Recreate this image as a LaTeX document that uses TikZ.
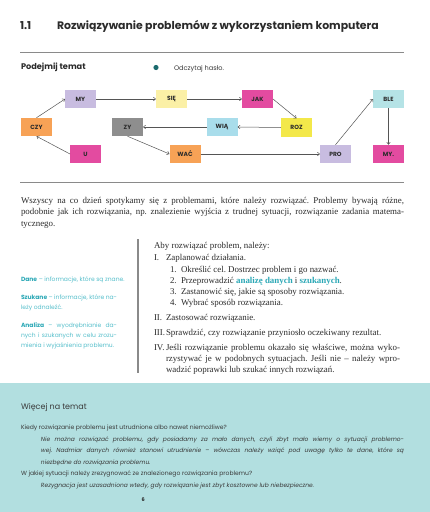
\documentclass[tikz,border=0pt]{standalone}
\usepackage{fontspec}
\setmainfont{Liberation Serif}
\newfontfamily\pop{Poppins}
\usetikzlibrary{arrows.meta}
\frenchspacing
\definecolor{ink}{HTML}{2B2B2B}
\definecolor{sink}{HTML}{3A3A3A}
\definecolor{lineg}{HTML}{555555}
\definecolor{rulec}{HTML}{8A8A8A}
\definecolor{cLav}{HTML}{C8BCE0}
\definecolor{cPaleY}{HTML}{FBF0A6}
\definecolor{cOrange}{HTML}{F7A256}
\definecolor{cGray}{HTML}{8E8E8E}
\definecolor{cMag}{HTML}{E34BA0}
\definecolor{cYel}{HTML}{F3E84A}
\definecolor{cBlue}{HTML}{A9DDEB}
\definecolor{cBlue2}{HTML}{B5E3E6}
\definecolor{dotc}{HTML}{1B6B6E}
\definecolor{tealt}{HTML}{55BFCB}
\definecolor{tealb}{HTML}{2BA8B6}
\definecolor{boxbg}{HTML}{B2DFE0}
\begin{document}
\begin{tikzpicture}[x=1pt,y=-1pt,
  every node/.style={inner sep=0pt,outer sep=0pt},
  lbl/.style={anchor=base west,text=ink},
  hbox/.style={fill=#1,minimum width=31pt,minimum height=18.5pt,font=\pop\bfseries\fontsize{6}{6}\selectfont,text=ink},
  conn/.style={draw=lineg,line width=0.5pt,-{Straight Barb[length=2.2pt,width=3.6pt]}},
  serifl/.style={lbl,font=\fontsize{8.9}{10}\selectfont},
  listl/.style={lbl,font=\fontsize{8.9}{10}\selectfont},
  side/.style={lbl,text=tealt,font=\pop\fontsize{6}{6}\selectfont},
  bot/.style={lbl,text=sink,font=\pop\fontsize{6.05}{7}\selectfont},
  boti/.style={lbl,text=sink,font=\pop\itshape\fontsize{5.95}{7}\selectfont},
]
\useasboundingbox (0,0) rectangle (430,512);
\fill[white] (0,0) rectangle (430,512);
\fill[boxbg] (0,383) rectangle (430,512);

% title
\node[lbl,font=\pop\bfseries\fontsize{10.9}{12}\selectfont] (tnum) at (20,29) {1.1};
\node[lbl,font=\pop\bfseries\fontsize{10.9}{12}\selectfont] (ttl) at (57,29) {Rozwiązywanie problemów z wykorzystaniem komputera};
\draw[rulec,line width=1pt] (20,52.3) -- (404,52.3);

% diagram header
\node[lbl,font=\pop\bfseries\fontsize{8.2}{9}\selectfont] (pt) at (21,69.5) {Podejmij temat};
\fill[dotc] (156,67.5) circle (2.6);
\node[lbl,text=sink,font=\pop\fontsize{6.6}{7}\selectfont] (od) at (174,70) {Odczytaj hasło.};

% boxes
\node[hbox=cLav] (my) at (80.5,99) {MY};
\node[hbox=cPaleY] (sie) at (171.5,99) {SIĘ};
\node[hbox=cMag] (jak) at (257.5,99) {JAK};
\node[hbox=cBlue2] (ble) at (388.5,99) {BLE};
\node[hbox=cOrange] (czy) at (36.5,127) {CZY};
\node[hbox=cGray] (zy) at (127.5,127) {ZY};
\node[hbox=cBlue] (wia) at (222,127) {WIĄ};
\node[hbox=cYel] (roz) at (296.5,127.5) {ROZ};
\node[hbox=cMag] (u) at (85.5,154) {U};
\node[hbox=cOrange] (wac) at (185,154) {WAĆ};
\node[hbox=cLav] (pro) at (335.5,154) {PRO};
\node[hbox=cMag] (my2) at (388.5,154) {MY.};

% connectors
\draw[conn] (czy.north) -- (my.west);
\draw[conn] (u.west) -- (czy.south);
\draw[conn] (my.east) -- (sie.west);
\draw[conn] (sie.east) -- (jak.west);
\draw[conn] (jak.east) -- (roz.north);
\draw[conn] (roz.west) -- (wia.east);
\draw[conn] (wia.west) -- (zy.east);
\draw[conn] (zy.south) -- (wac.west);
\draw[conn] (wac.east) -- (pro.west);
\draw[conn] (pro.north) -- (ble.west);
\draw[conn] (ble.south) -- (my2.north);

\draw[rulec,line width=1.2pt] (20,182.7) -- (404,182.7);

% paragraph
\node[serifl] (p1) at (21,203) {\makebox[383pt][s]{Wszyscy na co dzień spotykamy się z problemami, które należy rozwiązać. Problemy bywają różne,}};
\node[serifl] (p2) at (21,214.5) {\makebox[383pt][s]{podobnie jak ich rozwiązania, np. znalezienie wyjścia z trudnej sytuacji, rozwiązanie zadania matema-}};
\node[serifl] (p3) at (21,226) {tycznego.};

% sidebar
\node[side] (s1) at (21,281) {\textcolor{tealb}{\bfseries Dane} – informacje, które są znane.};
\node[side] (s2) at (21,299) {\makebox[96pt][s]{\textcolor{tealb}{\bfseries Szukane} – informacje, które na-}};
\node[side] (s3) at (21,309) {leży odnaleźć.};
\node[side] (s4) at (21,327) {\makebox[96pt][s]{\textcolor{tealb}{\bfseries Analiza} – wyodrębnianie da-}};
\node[side] (s5) at (21,337) {\makebox[96pt][s]{nych i szukanych w celu zrozu-}};
\node[side] (s6) at (21,347) {mienia i wyjaśnienia problemu.};

\draw[rulec,line width=1.2pt] (138,239) -- (138,373);

% list
\node[listl] (a0) at (154,248) {Aby rozwiązać problem, należy:};
\node[listl] (a1n) at (154,260) {I.};
\node[listl] (a1) at (166,260) {Zaplanować działania.};
\node[listl] (b1n) at (170,272) {1.};
\node[listl] (b1) at (181,272) {Określić cel. Dostrzec problem i go nazwać.};
\node[listl] (b2n) at (170,283) {2.};
\node[listl] (b2) at (181,283) {Przeprowadzić \textcolor{tealb}{\bfseries analizę danych} i \textcolor{tealb}{\bfseries szukanych}.};
\node[listl] (b3n) at (170,294) {3.};
\node[listl] (b3) at (181,294) {Zastanowić się, jakie są sposoby rozwiązania.};
\node[listl] (b4n) at (170,305) {4.};
\node[listl] (b4) at (181,305) {Wybrać sposób rozwiązania.};
\node[listl] (a2n) at (154,320) {II.};
\node[listl] (a2) at (166,320) {Zastosować rozwiązanie.};
\node[listl] (a3n) at (154,335) {III.};
\node[listl] (a3) at (166,335) {Sprawdzić, czy rozwiązanie przyniosło oczekiwany rezultat.};
\node[listl] (a4n) at (154,350) {IV.};
\node[listl] (a4a) at (166,350) {\makebox[234pt][s]{Jeśli rozwiązanie problemu okazało się właściwe, można wyko-}};
\node[listl] (a4b) at (166,361) {\makebox[234pt][s]{rzystywać je w podobnych sytuacjach. Jeśli nie – należy wpro-}};
\node[listl] (a4c) at (166,372) {wadzić poprawki lub szukać innych rozwiązań.};

% bottom box
\node[lbl,text=sink,font=\pop\fontsize{8}{9}\selectfont] (wt) at (21,409) {Więcej na temat};
\node[bot] (q1) at (21,429.5) {Kiedy rozwiązanie problemu jest utrudnione albo nawet niemożliwe?};
\node[boti] (r1a) at (41,441) {\makebox[363pt][s]{Nie można rozwiązać problemu, gdy posiadamy za mało danych, czyli zbyt mało wiemy o sytuacji problemo-}};
\node[boti] (r1b) at (41,452.5) {\makebox[363pt][s]{wej. Nadmiar danych również stanowi utrudnienie – wówczas należy wziąć pod uwagę tylko te dane, które są}};
\node[boti] (r1c) at (41,464) {niezbędne do rozwiązania problemu.};
\node[bot] (q2) at (21,475) {W jakiej sytuacji należy zrezygnować ze znalezionego rozwiązania problemu?};
\node[boti] (r2) at (41,487) {Rezygnacja jest uzasadniona wtedy, gdy rozwiązanie jest zbyt kosztowne lub niebezpieczne.};
\node[lbl,text=ink,font=\pop\bfseries\fontsize{5}{6}\selectfont] (pg) at (141.5,501) {6};
\end{tikzpicture}
\end{document}
